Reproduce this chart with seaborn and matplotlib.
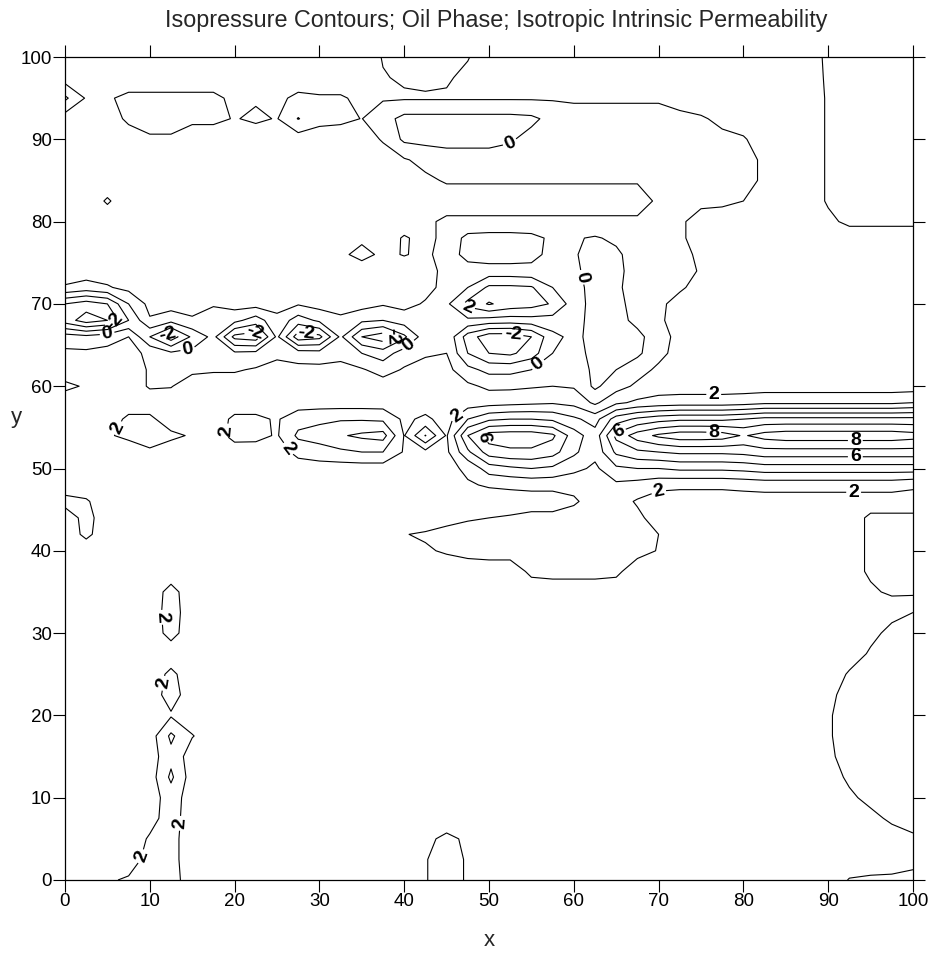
import matplotlib

matplotlib.use("Agg")
import matplotlib.pyplot as plt
import numpy as np
import seaborn as sns

# grid: x every 2.5, y rows below, background value elsewhere
X_STEP = 2.5
XS = np.arange(0, 100 + X_STEP / 2, X_STEP)
YS = [0, 2.5, 5, 7.5, 10, 12.5, 15, 17.5, 20, 22.5, 25, 27.5, 30, 32.5, 35, 37.5,
      40, 42, 44, 46, 48, 50, 52, 54, 56, 58, 60, 62, 64, 66, 68, 70, 72, 74, 76, 78,
      80, 82.5, 85, 87.5, 90, 92.5, 95, 97.5, 100]
BACKGROUND = 1.5

# (row y, first x, values along x)
PATCHES = [
    (0, 5, [1.9, 2.1, 2.4, 2.4]), (0, 42.5, [1.95, 2.4, 1.9]), (0, 92.5, [0.95, 0.85, 0.8, 0.8]),
    (2.5, 7.5, [1.6, 2.3, 2.3]), (2.5, 42.5, [1.95, 2.4, 1.9]), (2.5, 100, [1.2]),
    (5, 10, [2.1, 2.3]), (5, 42.5, [1.8, 2.2, 1.85]), (5, 100, [1.8]),
    (7.5, 10, [1.7, 2.4]), (7.5, 95, [1.7, 2.2, 2.5]),
    (10, 12.5, [2.5]), (10, 92.5, [1.8, 2.3, 2.5, 2.5]),
    (12.5, 12.5, [3.2]), (12.5, 92.5, [2.2, 2.5, 2.5, 2.5]),
    (15, 12.5, [2.7]), (15, 90, [1.8, 2.4, 2.5, 2.5, 2.5]),
    (17.5, 12.5, [3.2, 2.05]), (17.5, 90, [1.9, 2.4, 2.5, 2.5, 2.5]),
    (20, 12.5, [1.9]), (20, 90, [1.9, 2.4, 2.5, 2.5, 2.5]),
    (22.5, 12.5, [2.4]), (22.5, 90, [1.8, 2.3, 2.5, 2.5, 2.5]),
    (25, 12.5, [2.2]), (25, 92.5, [2.1, 2.4, 2.5, 2.5]),
    (27.5, 92.5, [1.6, 2.1, 2.4, 2.5]),
    (30, 12.5, [2.3]), (30, 95, [1.8, 2.2, 2.4]),
    (32.5, 12.5, [2.4]), (32.5, 97.5, [1.8, 2.0]),
    (35, 12.5, [2.3]), (35, 95, [1.2, 0.8, 0.8]),
    (37.5, 55, [2.2, 2.3, 2.3, 2.3, 2.2]), (37.5, 95, [0.8, 0.8, 0.8]),
    (40, 42.5, [1.9, 2.1, 2.3, 2.4, 2.4, 2.4, 2.4, 2.4, 2.4, 2.4, 2.3, 1.95]),
    (40, 95, [0.8, 0.8, 0.8]),
    (42, 2.5, [2.2]),
    (42, 37.5, [1.9, 1.97, 2.1, 2.2, 2.4, 2.4, 2.4, 2.4, 2.4, 2.4, 2.4, 2.4, 2.3, 2.0]),
    (42, 95, [0.8, 0.8, 0.8]),
    (44, 2.5, [2.3]),
    (44, 45, [1.8, 1.9, 2.0, 2.1, 2.3, 2.3, 2.3, 2.3, 2.4, 2.2, 1.6]),
    (44, 95, [0.8, 0.8, 0.8]),
    (46, 0, [2.3, 2.1]), (46, 60, [1.9, 2.3, 2.4, 1.9]),
    (48, 42.5, [1.5, 1.6, 1.9, 2.1, 2.2, 2.3, 2.3, 2.2, 2.3, 2.8, 2.6, 2.3,
                2.2, 2.2, 2.2, 2.3, 2.4, 2.4, 2.4, 2.4, 2.4, 2.4, 2.4, 2.2]),
    (50, 42.5, [1.5, 1.7, 2.2, 3.5, 3.8, 4.0, 3.8, 3.3, 2.8, 3.8, 4.0, 4.0,
                4.2, 4.2, 4.2, 4.3, 4.5, 4.5, 4.5, 4.5, 4.5, 4.5, 4.5, 4.5]),
    (52, 10, [1.9]), (52, 17.5, [1.7, 1.7]),
    (52, 27.5, [2.3, 2.6, 2.8, 3.0, 3.0, 1.9, 1.7]),
    (52, 45, [1.8, 3.8, 5.5, 5.8, 5.8, 5.4, 4.2, 3.3, 5.2, 5.8, 6.0, 6.2,
              6.2, 6.2, 6.3, 6.6, 6.6, 6.6, 6.6, 6.6, 6.6, 6.6, 6.6]),
    (54, 5, [1.9, 2.2, 2.3, 2.2, 1.9, 1.7, 2.2, 2.3, 1.9, 3.2, 3.4, 3.9, 4.2,
             4.4, 1.95, 4.05, 1.9, 5.0, 6.5, 6.6, 6.6, 6.2, 4.5, 3.4, 6.3, 7.5,
             8.2, 8.6, 8.6, 8.5, 7.9, 8.4, 8.6, 8.6, 8.6, 8.6, 8.6, 8.6, 8.4]),
    (56, 7.5, [2.2, 2.2]),
    (56, 20, [2.2, 2.2, 1.9, 2.6, 2.8, 2.9, 2.9, 2.8, 1.8, 2.2, 1.6, 3.0, 3.8,
              4.0, 4.0, 3.8, 3.2, 2.6, 4.5, 5.2, 5.6, 5.8, 5.8, 5.8, 6.0, 6.3,
              6.3, 6.3, 6.3, 6.3, 6.3, 6.3, 6.3]),
    (58, 50, [1.6, 1.7, 1.8, 1.9, 1.7, 0.8, 1.8, 2.2, 2.4, 2.5, 2.5, 2.5, 2.6,
              2.8, 2.8, 2.8, 2.8, 2.8, 2.8, 2.8, 3.0]),
    (60, 0, [0.8, 1.1]), (60, 10, [0.9, 0.95]),
    (60, 47.5, [1.2, 0.8, 0.8, 0.9, 1.0, 0.9, -0.2, 0.6, 1.2]),
    (62, 10, [0.9, 0.8, 0.8, 0.9, 0.9, 1.1, 1.3, 1.3, 1.3, 1.3, 1.1, 0.6, 1.1,
              1.3, 1.3, 0.3, -0.3, -0.3, 0.0, 0.6, 0.8, -0.3, 0.0, 0.6, 1.2]),
    (64, 0, [1.2, 1.2, 1.3, 1.3, 0.8, 0.2, 0.3, 0.7, 0.2, 0.3, 0.8, 0.5, 0.4,
             0.7, 0.0, -0.5, 0.5, 0.9, 1.0, -1.0, -2.0, -2.2, -1.5, 0.0, 0.5,
             -0.4, -0.4, -0.2, 0.7, 1.4]),
    (66, 0, [0.5, 0.3, 0.6, 1.0, -1.0, -2.6, -0.8, 0.3, -2.3, -2.6, 0.2, -2.6,
             -2.3, 0.2, -2.0, -2.6, -1.2, 0.6, 0.8, -1.5, -2.6, -2.6, -2.0, -0.3,
             0.3, -0.4, -0.5, -0.3, 0.6, 1.3]),
    (68, 0, [-2.5, -3.5, -3.0, -1.0, 0.9, 0.3, 0.9, 0.5, 0.3, -0.5, 0.7, -0.5,
             0.2, 0.8, 0.2, 0.0, 0.5, 0.8, 0.7, 0.8, 0.6, 0.5, 0.6, 0.6, 0.4,
             -0.4, -0.4, 0.3, 0.8]),
    (70, 0, [-2.0, -2.5, -2.0, 0.0, 1.3, 1.5, 1.3, 1.1, 1.4, 1.4, 1.4, 1.1, 1.4,
             1.4, 1.4, 1.1, 1.3, 0.9, 0.8, 2.3, 3.1, 2.6, 2.4, 1.9, 0.5, -0.4,
             -0.3, 0.4, 0.7]),
    (72, 0, [0.9, 0.6, 0.9, 1.3]),
    (72, 42.5, [1.3, 0.7, 1.0, 2.2, 2.2, 2.1, 1.0, 0.4, -0.4, -0.2, 0.5, 0.9, 0.8]),
    (74, 42.5, [1.4, 0.7, 0.5, 0.4, 0.4, 0.3, 0.4, 0.2, -0.4, -0.3, 0.5, 0.6, 0.6, 1.1]),
    (76, 32.5, [1.2, 0.7, 1.2, 0.95, 1.2, 0.6, -0.4, -0.5, -0.5, -0.3, 0.3, 0.1, -0.4,
                -0.2, 0.5, 0.6, 0.7, 1.2]),
    (78, 35, [1.2, 1.5, 0.9, 1.3, 0.7, -0.3, -0.4, -0.4, -0.3, 0.2, 0.1, -0.1, 0.2,
              0.5, 0.6, 0.8]),
    (80, 42.5, [1.2, 0.8, 0.8, 0.8, 0.8, 0.8, 0.8, 0.8, 0.8, 0.8, 0.8, 0.7, 0.8]),
    (80, 90, [1.2, 0.8, 0.8, 0.8, 0.8]),
    (82.5, 5, [0.9]), (82.5, 70, [0.8, 0.7, 0.7, 0.8, 1.0]),
    (82.5, 90, [0.9, 0.8, 0.8, 0.8, 0.8]),
    (85, 42.5, [1.2, 0.9, 0.9, 0.9, 0.9, 0.9, 0.9, 0.9, 0.9, 0.9, 0.9, 0.8, 0.7,
                0.7, 0.7, 0.8, 1.1]),
    (85, 90, [0.9, 0.8, 0.8, 0.8, 0.8]),
    (87.5, 40, [1.1, 0.7, 0.4, 0.4, 0.4, 0.4, 0.5, 0.7, 0.7, 0.7, 0.7, 0.7, 0.7,
                0.7, 0.7, 0.7, 0.8, 1.1]),
    (87.5, 90, [0.9, 0.8, 0.8, 0.8, 0.8]),
    (90, 10, [1.1, 1.1]),
    (90, 37.5, [0.9, -0.2, -0.3, -0.3, -0.3, -0.3, -0.1, 0.3, 0.7, 0.7, 0.7, 0.7,
                0.7, 0.7, 0.7, 0.7, 0.8, 0.9]),
    (90, 90, [0.9, 0.8, 0.8, 0.8, 0.8]),
    (92.5, 7.5, [0.8, 0.7, 0.7, 0.8, 0.8, 1.05, 0.85, 1.05, -0.05, 0.7, 0.8, 1.02,
                 0.4, -0.3, -0.3, -0.3, -0.3, -0.3, -0.3, -0.2, 0.3, 0.7, 0.7, 0.7,
                 0.7, 0.7, 0.8, 0.9, 1.2]),
    (92.5, 90, [0.9, 0.8, 0.8, 0.8, 0.8]),
    (95, 0, [-0.2, 1.1, 1.1, 0.8, 0.8, 0.8, 0.8, 0.8, 1.2, 1.1, 1.2, 0.8, 0.9, 0.9,
             1.2, 1.1, 1.1, 1.1, 1.1, 1.1, 1.1, 1.1, 1.1, 1.1, 1.1, 1.1, 1.1, 1.1,
             1.1, 1.3]),
    (95, 90, [0.9, 0.8, 0.8, 0.8, 0.8]),
    (97.5, 37.5, [1.05, 0.9, 0.8, 0.9, 1.2]),
    (97.5, 90, [0.85, 0.8, 0.8, 0.8, 0.8]),
    (100, 37.5, [0.95, 0.8, 0.8, 0.8, 0.95]),
    (100, 90, [0.8, 0.8, 0.8, 0.8, 0.8]),
]

EVEN_LEVELS = [-2, 0, 2, 4, 6, 8]
ODD_LEVELS = [-3, -1, 1, 3, 5, 7, 9]
LABEL_X = [52.7, 62.2, 47.4, 52.8, 55.6, 6.0, 5.0, 12.0, 14.4, 22.4, 28.5, 38.8, 40.8,
           5.9, 19.5, 26.6, 46.3, 49.3, 70.0, 65.4, 76.5, 76.5, 93.2, 93.2, 93.0,
           11.2, 11.6, 13.4, 9.2]
LABEL_Y = [88.9, 73.5, 69.5, 66.3, 62.9, 67.6, 66.0, 66.6, 65.0, 66.6, 66.9, 66.0, 64.6,
           55.1, 54.5, 52.6, 56.3, 53.9, 47.3, 54.2, 58.5, 54.0, 53.2, 51.7, 47.2,
           31.9, 23.9, 6.9, 2.8]

TITLE = "Isopressure Contours; Oil Phase; Isotropic Intrinsic Permeability"
FONT = ["Liberation Sans", "DejaVu Sans"]


def build_grid() -> np.ndarray:
    grid = np.full((len(YS), len(XS)), BACKGROUND)
    for y, x0, vals in PATCHES:
        row = YS.index(y)
        col = int(round(x0 / X_STEP))
        grid[row, col:col + len(vals)] = vals
    return grid


def main() -> None:
    sns.set_style("ticks")
    plt.rcParams["font.family"] = FONT

    grid = build_grid()

    fig = plt.figure(figsize=(9.34, 9.75), dpi=100)
    # axes box: x 65..913 px, y 57..880 px
    ax = fig.add_axes([65 / 934, 1 - 880 / 975, 848 / 934, 823 / 975])

    ax.contour(XS, YS, grid, levels=ODD_LEVELS, colors="black",
               linewidths=0.8, linestyles="solid")
    cs = ax.contour(XS, YS, grid, levels=EVEN_LEVELS, colors="black",
                    linewidths=0.8, linestyles="solid")
    texts = ax.clabel(cs, manual=list(zip(LABEL_X, LABEL_Y)),
                      inline=True, inline_spacing=2, fmt="%d", fontsize=14)
    for t in texts:
        t.set_fontweight("bold")

    ax.set_xlim(0, 100)
    ax.set_ylim(0, 100)
    ax.set_xticks(np.arange(0, 101, 10))
    ax.set_yticks(np.arange(0, 101, 10))
    ax.tick_params(direction="out", length=8.5, width=0.8, labelsize=13.5, pad=1,
                   top=True, right=True, colors="black")
    for side in ax.spines.values():
        side.set_linewidth(0.9)
        side.set_color("black")

    fig.text(496 / 934, 1 - 27 / 975, TITLE, ha="center", va="baseline", fontsize=16.8)
    fig.text(489 / 934, 1 - 940 / 975, "x", ha="center", va="center", fontsize=16)
    fig.text(16 / 934, 1 - 417 / 975, "y", ha="center", va="center", fontsize=16)

    fig.savefig("out.png", dpi=100)
    plt.close(fig)


if __name__ == "__main__":
    main()
